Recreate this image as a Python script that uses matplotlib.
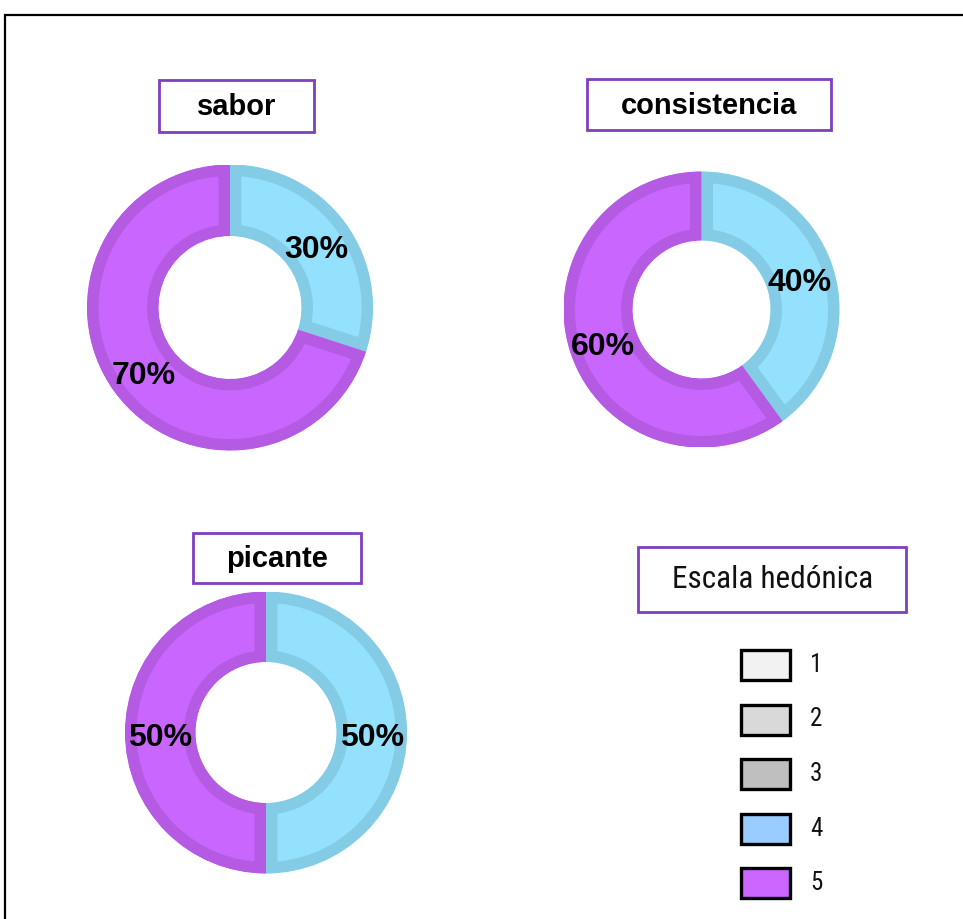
import matplotlib
matplotlib.use("Agg")
import matplotlib.pyplot as plt
from matplotlib.patches import Rectangle

# --- datos ---
atributos = ["sabor", "consistencia", "picante"]
puntaje_4 = [30, 40, 50]   # % que calificó 4
puntaje_5 = [70, 60, 50]   # % que calificó 5
escala = ["1", "2", "3", "4", "5"]
colores_escala = ["#F2F2F2", "#D9D9D9", "#BFBFBF", "#99CCFF", "#CC66FF"]

# colores de las donas (relleno, borde interior)
relleno = {"4": "#94E1FE", "5": "#C966FD"}
borde = {"4": "#84CCE5", "5": "#B55AE3"}
morado = "#7F3FBF"

W, H = 963, 919
fig = plt.figure(figsize=(W / 100, H / 100), dpi=100)

# lienzo en pixeles para marcos, cajas de titulo y leyenda
canvas = fig.add_axes([0, 0, 1, 1])
canvas.set_xlim(0, W)
canvas.set_ylim(H, 0)
canvas.axis("off")

# marco exterior (solo se ven lados izquierdo y superior)
canvas.plot([5, 5, W + 10], [H + 10, 15, 15], color="black", lw=1.6,
            solid_joinstyle="miter", clip_on=False)

# posicion de cada dona: centro (px) y radio (px)
donas = [(230, 307.5, 143), (701.5, 309.5, 138), (266, 732.5, 141)]
# cajas de titulo: x0, y0, x1, y1
cajas = [(159, 80, 314, 132), (587, 79, 831, 130), (193, 533, 361, 583)]

for i, nombre in enumerate(atributos):
    cx, cy, r = donas[i]
    ax = fig.add_axes([(cx - r) / W, (H - cy - r) / H, 2 * r / W, 2 * r / H])
    vals = [puntaje_4[i], puntaje_5[i]]
    wedges, texts, autotexts = ax.pie(
        vals, colors=[relleno["4"], relleno["5"]], startangle=90,
        counterclock=False, radius=1, wedgeprops=dict(width=0.5),
        autopct="%.0f%%", pctdistance=0.75,
        textprops=dict(fontsize=23, fontweight="bold", family="Liberation Sans",
                       color="black"))
    for w, k in zip(wedges, ["4", "5"]):
        # borde solo hacia dentro: trazo ancho recortado por la propia cuña
        w.set_edgecolor(borde[k])
        w.set_linewidth(16.5)
        w.set_clip_path(w)
        w.set_clip_on(True)
    for t in autotexts:
        t.set_zorder(5)
        tx, ty = t.get_position()
        t.set_position((tx, ty - 0.04))
    ax.set_xlim(-1, 1)
    ax.set_ylim(-1, 1)
    ax.set_aspect("equal")

    x0, y0, x1, y1 = cajas[i]
    canvas.add_patch(Rectangle((x0, y0), x1 - x0, y1 - y0, fill=False,
                               edgecolor=morado, lw=2))
    canvas.text((x0 + x1) / 2, (y0 + y1) / 2 + 1, nombre, ha="center", va="center",
                fontsize=21, fontweight="bold", family="Liberation Sans")

# leyenda: escala hedonica
canvas.add_patch(Rectangle((638, 547), 268, 65, fill=False, edgecolor=morado, lw=2))
canvas.text(773, 580, "Escala hedónica", ha="center", va="center", fontsize=22.5,
            family=["Roboto Condensed", "Liberation Sans"], color="#111111")

y_fila0, paso = 665, 54.5
for j, (etq, col) in enumerate(zip(escala, colores_escala)):
    yc = y_fila0 + j * paso
    canvas.add_patch(Rectangle((741, yc - 15), 49, 30, facecolor=col,
                               edgecolor="black", lw=2.4))
    canvas.text(810, yc, etq, ha="left", va="center", fontsize=18,
                family=["Roboto Condensed", "Liberation Sans"], color="#111111")

fig.savefig("out.png", dpi=100)
